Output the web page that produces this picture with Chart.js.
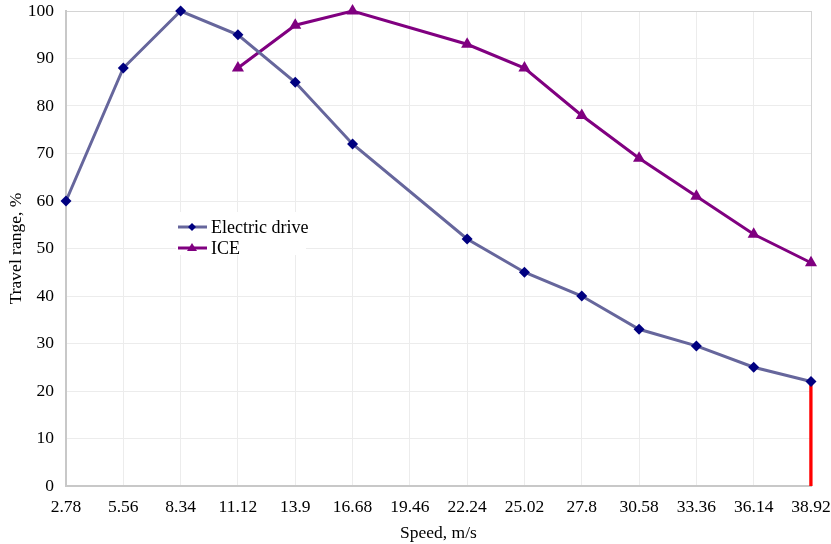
<!DOCTYPE html>
<html>
<head>
<meta charset="utf-8">
<script src="https://cdn.jsdelivr.net/npm/chart.js@4/dist/chart.umd.min.js"></script>
<style>
	html, body { margin: 0; padding: 0; background: #fff; }
	#wrap { width: 831px; height: 544px; }
</style>
</head>
<body>
<div id="wrap"><canvas id="travel-range"></canvas></div>
<script>
const speeds = ['2.78', '5.56', '8.34', '11.12', '13.9', '16.68', '19.46', '22.24', '25.02', '27.8', '30.58', '33.36', '36.14', '38.92'];
const electricDrive = [60, 88, 100, 95, 85, 72, null, 52, 45, 40, 33, 29.5, 25, 22];
const ice = [null, null, null, 88, 97, 100, null, 93, 88, 78, 69, 61, 53, 47];
const yTicks = [0, 10, 20, 30, 40, 50, 60, 70, 80, 90, 100];

const font = { family: '"Liberation Serif", "Times New Roman", serif', size: 17.5 };
const textColor = '#000';

// red marker at the last speed, from 0 up to the electric value
const lastSpeed = speeds[speeds.length - 1];
const redMark = [
	{ x: lastSpeed, y: 0 },
	{ x: lastSpeed, y: electricDrive[electricDrive.length - 1] }
];

const legendItems = [
	{ label: 'Electric drive', line: '#66669c', point: '#000080', style: 'diamond' },
	{ label: 'ICE', line: '#800080', point: '#800080', style: 'triangle' }
];

const legendBox = {
	id: 'legendBox',
	beforeDatasetsDraw(chart) {
		const ctx = chart.ctx;
		ctx.save();
		ctx.fillStyle = '#fff';
		ctx.fillRect(176, 212, 130, 43);
		ctx.font = '18px ' + font.family;
		ctx.textBaseline = 'middle';
		legendItems.forEach((item, i) => {
			const y = 227 + i * 21;
			ctx.strokeStyle = item.line;
			ctx.lineWidth = 3;
			ctx.beginPath();
			ctx.moveTo(178, y);
			ctx.lineTo(207, y);
			ctx.stroke();
			ctx.fillStyle = item.point;
			ctx.beginPath();
			if (item.style === 'diamond') {
				ctx.moveTo(192, y - 4);
				ctx.lineTo(196, y);
				ctx.lineTo(192, y + 4);
				ctx.lineTo(188, y);
			} else {
				ctx.moveTo(192, y - 5);
				ctx.lineTo(197, y + 3);
				ctx.lineTo(187, y + 3);
			}
			ctx.closePath();
			ctx.fill();
			ctx.fillStyle = textColor;
			ctx.fillText(item.label, 211, y + 1);
		});
		ctx.restore();
	}
};

new Chart(document.getElementById('travel-range'), {
	type: 'line',
	data: {
		labels: speeds,
		datasets: [
			{
				label: 'Electric drive',
				data: electricDrive,
				borderColor: '#66669c',
				backgroundColor: '#000080',
				borderWidth: 3,
				pointStyle: 'rectRot',
				pointRadius: 5.5,
				pointBorderWidth: 0,
				spanGaps: true,
				tension: 0,
				clip: false
			},
			{
				label: 'ICE',
				data: ice,
				borderColor: '#800080',
				backgroundColor: '#800080',
				borderWidth: 3,
				pointStyle: 'triangle',
				pointRadius: 7,
				pointBorderWidth: 0,
				spanGaps: true,
				tension: 0,
				clip: false
			},
			{
				label: 'marker',
				data: redMark,
				borderColor: '#ff0000',
				borderWidth: 3.5,
				pointRadius: 0
			}
		]
	},
	options: {
		responsive: true,
		maintainAspectRatio: false,
		animation: false,
		layout: { padding: { top: 11, right: 20, left: 0, bottom: 0 } },
		plugins: {
			legend: { display: false },
			tooltip: { enabled: false }
		},
		scales: {
			x: {
				offset: false,
				grid: {
					color: ctx => ctx.index === speeds.length - 1 ? '#d4d4d4' : '#ececec',
					lineWidth: 1,
					drawTicks: false
				},
				border: { color: '#c8c8c8', width: 2 },
				ticks: { color: textColor, font: font, padding: 11, maxRotation: 0, autoSkip: false },
				title: { display: true, text: 'Speed, m/s', color: textColor, font: font, padding: { top: 2, bottom: 0 } },
				afterFit: scale => {
					scale.height = 58;
					scale.paddingLeft = 0;
					scale.paddingRight = 0;
				}
			},
			y: {
				min: 0,
				max: 100,
				afterBuildTicks: scale => { scale.ticks = yTicks.map(v => ({ value: v })); },
				grid: {
					color: ctx => ctx.tick && ctx.tick.value === 100 ? '#d4d4d4' : '#ececec',
					lineWidth: 1,
					drawTicks: false
				},
				border: { color: '#c8c8c8', width: 2 },
				ticks: { color: textColor, font: font, padding: 12 },
				title: { display: true, text: 'Travel range, %', color: textColor, font: font, padding: { top: 6, bottom: 0 } },
				afterFit: scale => {
					scale.width = 66;
					scale.paddingTop = 0;
					scale.paddingBottom = 0;
				}
			}
		}
	},
	plugins: [legendBox]
});
</script>
</body>
</html>
